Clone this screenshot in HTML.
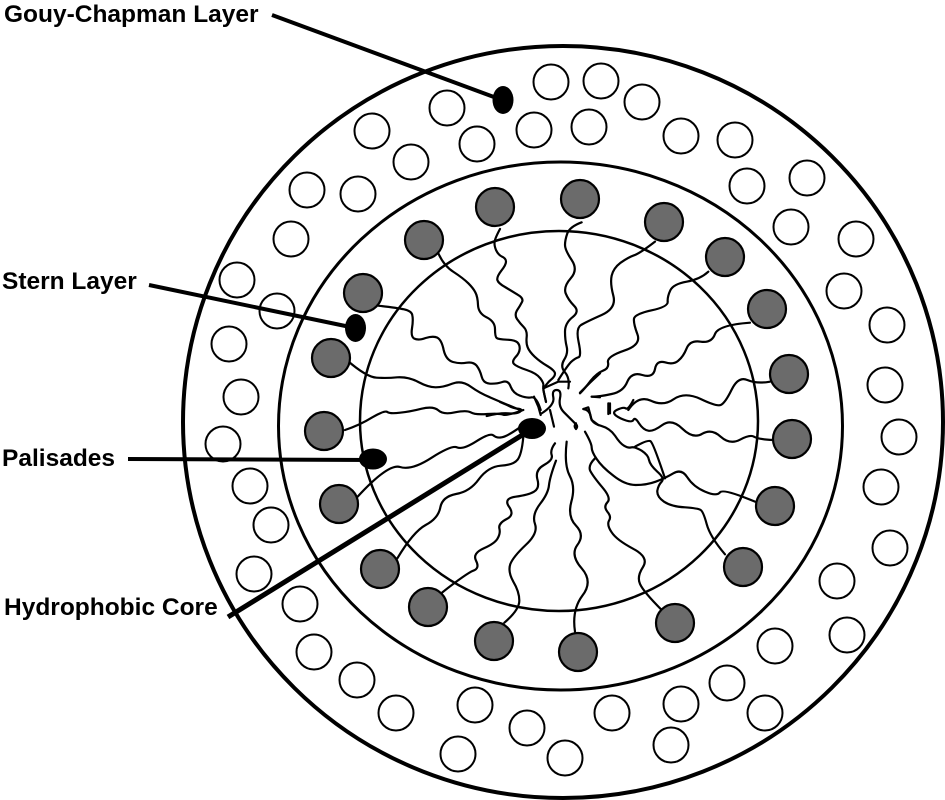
<!DOCTYPE html>
<html><head><meta charset="utf-8"><style>
html,body{margin:0;padding:0;background:#fff}
svg{display:block}
text{font-family:"Liberation Sans",Arial,sans-serif;font-weight:bold;font-size:24.5px;fill:#000}
.w circle{fill:#fff;stroke:#000;stroke-width:2}
.g circle{fill:#6b6b6b;stroke:#000;stroke-width:2.2}
.c polyline,.c path{fill:none;stroke:#000;stroke-width:6.6;stroke-linejoin:round;stroke-linecap:round}
</style></head><body>
<svg width="945" height="800" viewBox="0 0 945 800" xmlns="http://www.w3.org/2000/svg">
<rect width="945" height="800" fill="#fff"/>
<ellipse cx="563" cy="422" rx="380" ry="376" fill="none" stroke="#000" stroke-width="4"/>
<ellipse cx="560.5" cy="426" rx="282" ry="264" fill="none" stroke="#000" stroke-width="3"/>
<ellipse cx="559" cy="421" rx="199" ry="190" fill="none" stroke="#000" stroke-width="2.5"/>
<g class="w">
<circle cx="551" cy="82" r="17.5"/><circle cx="601" cy="81" r="17.5"/><circle cx="642" cy="102" r="17.5"/><circle cx="681" cy="136" r="17.5"/><circle cx="735" cy="140" r="17.5"/><circle cx="747" cy="186" r="17.5"/><circle cx="807" cy="178" r="17.5"/><circle cx="791" cy="227" r="17.5"/><circle cx="856" cy="239" r="17.5"/><circle cx="844" cy="291" r="17.5"/><circle cx="887" cy="325" r="17.5"/><circle cx="885" cy="385" r="17.5"/><circle cx="899" cy="437" r="17.5"/><circle cx="881" cy="487" r="17.5"/><circle cx="890" cy="548" r="17.5"/><circle cx="837" cy="581" r="17.5"/><circle cx="847" cy="635" r="17.5"/><circle cx="775" cy="646" r="17.5"/><circle cx="727" cy="683" r="17.5"/><circle cx="765" cy="713" r="17.5"/><circle cx="681" cy="704" r="17.5"/><circle cx="671" cy="745" r="17.5"/><circle cx="612" cy="713" r="17.5"/><circle cx="565" cy="758" r="17.5"/><circle cx="527" cy="728" r="17.5"/><circle cx="475" cy="705" r="17.5"/><circle cx="458" cy="754" r="17.5"/><circle cx="396" cy="713" r="17.5"/><circle cx="357" cy="680" r="17.5"/><circle cx="314" cy="652" r="17.5"/><circle cx="300" cy="604" r="17.5"/><circle cx="254" cy="574" r="17.5"/><circle cx="271" cy="525" r="17.5"/><circle cx="250" cy="486" r="17.5"/><circle cx="223" cy="444" r="17.5"/><circle cx="241" cy="397" r="17.5"/><circle cx="229" cy="344" r="17.5"/><circle cx="237" cy="280" r="17.5"/><circle cx="277" cy="311" r="17.5"/><circle cx="291" cy="239" r="17.5"/><circle cx="307" cy="190" r="17.5"/><circle cx="358" cy="194" r="17.5"/><circle cx="372" cy="131" r="17.5"/><circle cx="411" cy="162" r="17.5"/><circle cx="447" cy="108" r="17.5"/><circle cx="477" cy="144" r="17.5"/><circle cx="534" cy="130" r="17.5"/><circle cx="589" cy="127" r="17.5"/>
</g>
<g class="c" transform="translate(320,180) scale(.33333)">
<path d="M540,147 Q525,175 524,185 Q522,195 528,210 Q535,225 546,230 Q558,235 558,245 Q558,255 544,272 Q530,290 532,300 Q535,310 555,321 Q575,333 593,344 Q612,355 606,366 Q600,378 591,391 Q583,405 591,417 Q600,430 611,441 Q622,452 620,471 Q618,490 623,502 Q628,515 644,530 Q660,545 682,558 Q705,572 705,581 Q705,590 692,600 Q680,610 672,625"/>
<path d="M355,220 Q372,258 401,276 Q430,295 445,310 Q460,325 466,337 Q473,350 474,375 Q475,400 500,412 Q525,425 525,447 Q525,470 530,474 Q535,478 560,479 Q585,480 592,487 Q600,495 599,507 Q598,520 586,532 Q575,545 582,552 Q590,560 620,570 Q650,580 661,595 Q672,610 670,617 Q668,625 678,665"/>
<path d="M175,377 Q230,383 252,388 Q275,393 277,406 Q280,420 276,445 Q272,470 283,476 Q295,482 317,474 Q340,467 352,473 Q365,480 371,510 Q378,540 399,546 Q420,552 440,548 Q460,545 470,557 Q480,570 485,590 Q490,610 510,611 Q530,612 547,606 Q565,600 572,620 Q580,640 600,647 Q620,655 635,652 Q650,650 662,690"/>
<path d="M80,540 Q140,592 170,593 Q200,595 232,592 Q265,590 295,606 Q325,622 347,622 Q370,622 397,611 Q425,600 452,620 Q480,640 510,652 Q540,665 600,690"/>
</g>
<g class="c" transform="translate(480,340) scale(.33333)">
<path d="M60,186 Q70,190 85,197 Q100,205 115,206 Q130,208 120,215 Q110,222 85,220 Q60,218 20,228"/>
<polyline points="162,170 175,200 182,225"/>
<polyline points="190,145 235,125 270,125"/>
<polyline points="198,186 190,150"/>
<path d="M182,222 Q225,195 220,172 Q215,150 230,150 Q245,150 240,175 Q235,200 252,217 Q270,235 285,250 Q296,258 288,267 Q280,258 288,250"/>
<polyline points="210,210 222,260"/>
<polyline points="300,158 330,128 360,100"/>
<polyline points="335,170 360,172"/>
<polyline points="310,207 325,202 335,240 355,255"/>
<polyline points="385,190 385,222"/>
</g>
<g class="c" transform="translate(560,180) scale(.33333)">
<path d="M65,127 Q30,140 22,160 Q15,180 15,195 Q15,210 35,240 Q55,270 32,295 Q10,320 17,340 Q25,360 42,377 Q60,395 37,412 Q15,430 15,455 Q15,480 20,500 Q25,520 12,540 Q0,560 15,577 Q30,595 25,625"/>
<path d="M285,185 Q240,220 222,226 Q205,232 182,248 Q160,265 155,287 Q150,310 160,347 Q170,385 125,405 Q80,425 63,435 Q47,445 56,487 Q65,530 55,532 Q45,535 32,547 Q20,560 -5,600"/>
<path d="M445,275 Q420,298 380,305 Q340,312 331,331 Q322,350 323,365 Q325,380 275,391 Q225,402 222,416 Q220,430 232,462 Q245,495 192,512 Q140,530 144,547 Q148,565 129,572 Q110,580 92,602 Q75,625 60,640"/>
<path d="M570,428 Q475,435 465,462 Q455,490 422,485 Q390,480 380,505 Q370,530 355,542 Q340,555 315,547 Q290,540 285,567 Q280,595 247,585 Q215,575 202,605 Q190,635 155,642 Q120,650 95,650"/>
<path d="M630,605 Q590,612 562,600 Q535,588 515,629 Q495,670 482,675 Q470,680 422,657 Q375,635 342,657 Q310,680 272,662 Q235,645 205,690"/>
</g>
<g class="c" transform="translate(560,400) scale(.33333)">
<path d="M640,120 Q595,118 582,110 Q570,103 540,119 Q510,135 482,110 Q455,85 427,101 Q400,118 367,86 Q335,55 307,75 Q280,95 265,92 Q250,90 237,70 Q225,50 220,60 Q215,70 182,55 Q150,40 170,30 Q190,20 197,25 Q205,30 220,0"/>
<polyline points="150,10 150,40"/>
<path d="M585,305 Q490,265 480,277 Q470,290 435,275 Q400,260 382,232 Q365,205 340,220 Q315,235 287,245 Q260,255 227,255 Q195,255 160,227 Q125,200 110,177 Q95,155 95,142 Q95,130 75,95"/>
<path d="M495,463 Q450,410 440,372 Q430,335 422,330 Q415,325 375,322 Q335,320 312,305 Q290,290 292,272 Q295,255 305,245 Q315,235 292,215 Q270,195 267,180 Q265,165 245,152 Q225,140 215,142 Q205,145 192,137 Q180,130 165,107 Q150,85 122,77 Q95,70 92,50 Q90,30 70,27"/>
<path d="M315,235 Q280,130 272,124 Q265,118 225,140"/>
<path d="M305,630 Q250,575 240,552 Q230,530 249,501 Q268,472 219,446 Q170,420 155,397 Q140,375 147,362 Q155,350 142,335 Q130,320 142,307 Q155,295 127,262 Q100,230 91,213 Q83,197 105,175"/>
<path d="M45,695 Q35,630 67,587 Q100,545 65,505 Q30,465 52,435 Q75,405 48,377 Q22,350 34,305 Q47,260 29,227 Q12,195 20,125"/>
</g>
<g class="c" transform="translate(310,400) scale(.33333)">
<path d="M105,90 Q150,75 187,52 Q225,30 232,36 Q240,42 270,38 Q300,35 335,26 Q370,18 385,31 Q400,45 435,37 Q470,30 482,37 Q495,45 532,42 Q570,40 580,44 Q590,48 640,30"/>
<path d="M143,290 Q235,190 270,201 Q305,212 365,173 Q425,135 441,142 Q458,150 499,124 Q540,98 550,106 Q560,115 575,112 Q590,110 630,82"/>
<path d="M262,475 Q310,395 347,375 Q385,355 391,322 Q397,290 438,282 Q480,275 507,237 Q535,200 572,197 Q610,195 622,180 Q635,165 640,110"/>
<path d="M397,577 Q470,520 490,512 Q510,505 498,482 Q487,460 521,445 Q555,430 563,415 Q572,400 568,385 Q565,370 590,357 Q615,345 597,320 Q580,295 617,290 Q655,285 672,275 Q690,265 682,237 Q675,210 702,195 Q730,180 725,165 Q720,150 735,130"/>
<path d="M583,668 Q628,630 628,602 Q628,575 610,545 Q593,515 601,492 Q610,470 647,435 Q685,400 675,372 Q665,345 690,312 Q715,280 717,255 Q720,230 738,182"/>
</g>
<g class="g">
<circle cx="495" cy="207" r="19"/><circle cx="580" cy="199" r="19"/><circle cx="664" cy="222" r="19"/><circle cx="725" cy="257" r="19"/><circle cx="767" cy="309" r="19"/><circle cx="789" cy="374" r="19"/><circle cx="792" cy="439" r="19"/><circle cx="775" cy="506" r="19"/><circle cx="743" cy="567" r="19"/><circle cx="675" cy="623" r="19"/><circle cx="578" cy="652" r="19"/><circle cx="494" cy="641" r="19"/><circle cx="428" cy="607" r="19"/><circle cx="380" cy="569" r="19"/><circle cx="339" cy="504" r="19"/><circle cx="324" cy="431" r="19"/><circle cx="331" cy="358" r="19"/><circle cx="363" cy="293" r="19"/><circle cx="424" cy="240" r="19"/>
</g>
<g stroke="#000" fill="none">
<line x1="272" y1="15" x2="502" y2="100" stroke-width="4"/>
<line x1="149" y1="285" x2="355" y2="328" stroke-width="4"/>
<line x1="128" y1="459" x2="373" y2="460" stroke-width="4"/>
<line x1="228" y1="617" x2="532" y2="429" stroke-width="5"/>
</g>
<ellipse cx="503" cy="100" rx="10.5" ry="14" fill="#000"/>
<ellipse cx="355.5" cy="328" rx="10.5" ry="14" fill="#000"/>
<ellipse cx="373" cy="459" rx="14" ry="10.5" fill="#000"/>
<ellipse cx="532" cy="428.5" rx="14" ry="10.5" fill="#000"/>
<text x="4" y="22">Gouy-Chapman Layer</text>
<text x="2" y="289">Stern Layer</text>
<text x="2" y="466">Palisades</text>
<text x="4" y="615">Hydrophobic Core</text>
</svg>
</body></html>
